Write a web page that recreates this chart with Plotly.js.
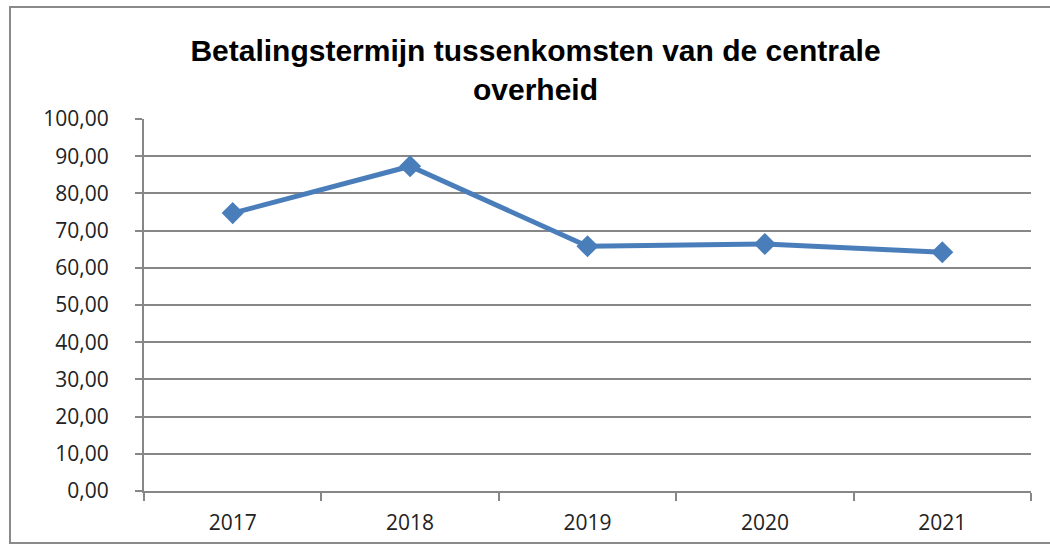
<!DOCTYPE html>
<html>
<head>
<meta charset="utf-8">
<script src="https://cdn.plot.ly/plotly-3.0.1.min.js"></script>
<style>
  html, body { margin: 0; padding: 0; background: #ffffff; }
  #wrap { position: relative; width: 1050px; height: 548px; overflow: hidden; }
  #chart { position: absolute; left: 0; top: 0; width: 1050px; height: 548px; }
  #frame { position: absolute; left: 9px; top: 6px; width: 1060px; height: 538px;
           border: 2px solid #8a8a8a; pointer-events: none; box-sizing: border-box; }
</style>
</head>
<body>
<div id="wrap">
  <div id="chart"></div>
  <div id="frame"></div>
</div>
<script>
const chartTitle = "Betalingstermijn tussenkomsten van de centrale<br>overheid";
const years = ["2017", "2018", "2019", "2020", "2021"];
const values = [74.7, 87.3, 65.8, 66.4, 64.2];
const yTicks = [0, 10, 20, 30, 40, 50, 60, 70, 80, 90, 100];

const trace = {
  x: years,
  y: values,
  type: "scatter",
  mode: "lines+markers",
  line: { color: "#4a7ebb", width: 5 },
  marker: { symbol: "diamond", size: 17, color: "#4a7ebb" },
  hoverinfo: "x+y"
};

const layout = {
  width: 1050,
  height: 548,
  separators: ",.",
  paper_bgcolor: "#ffffff",
  plot_bgcolor: "#ffffff",
  margin: { l: 144, r: 19, t: 119, b: 57 },
  showlegend: false,
  font: { family: "Open Sans, Liberation Sans, sans-serif", color: "#222222", size: 21 },
  title: {
    text: chartTitle,
    font: { family: "Liberation Sans Narrow, Liberation Sans, sans-serif", size: 30, color: "#000000", weight: "bold" },
    xref: "container", x: 0.51, xanchor: "center",
    yref: "container", y: 0.888, yanchor: "top"
  },
  xaxis: {
    type: "category",
    range: [-0.5, years.length - 0.5],
    tickson: "boundaries",
    ticks: "outside",
    ticklen: 8,
    tickwidth: 2,
    tickcolor: "#878787",
    showline: true,
    linecolor: "#878787",
    linewidth: 2,
    showgrid: false,
    zeroline: false,
    ticklabelstandoff: 12,
    tickfont: { size: 21, color: "#222222" }
  },
  yaxis: {
    range: [0, 100],
    tickvals: yTicks,
    tickformat: ".2f",
    ticks: "outside",
    ticklen: 7,
    tickwidth: 2,
    tickcolor: "#878787",
    showline: true,
    linecolor: "#878787",
    linewidth: 2,
    showgrid: true,
    gridcolor: "#878787",
    gridwidth: 2,
    zeroline: false,
    ticklabelstandoff: 22,
    tickfont: { size: 21, color: "#222222" }
  }
};

Plotly.newPlot("chart", [trace], layout, { displayModeBar: false, staticPlot: true });
</script>
</body>
</html>
